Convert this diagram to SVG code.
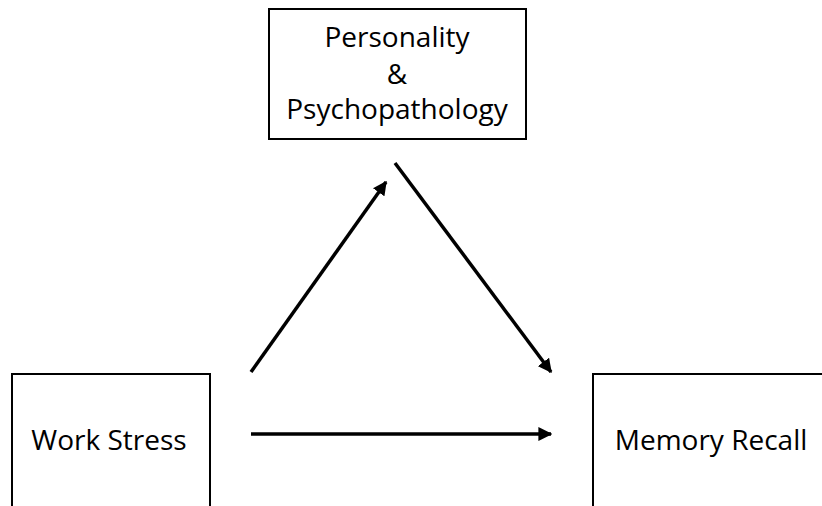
<svg xmlns="http://www.w3.org/2000/svg" width="822" height="506" viewBox="0 0 822 506">
<style>
.box{fill:#fff;stroke:#000;stroke-width:2}
.lbl{font-family:"Open Sans","Liberation Sans",sans-serif;font-size:28px;fill:#000;text-anchor:middle}
.arr{stroke:#000;stroke-width:3.5;fill:none;marker-end:url(#ah)}
</style>
<defs>
<marker id="ah" viewBox="0 0 10 10" refX="9" refY="5" markerWidth="4" markerHeight="4" orient="auto" markerUnits="strokeWidth">
<path d="M0,0 L10,5 L0,10 z" fill="#000"/>
</marker>
</defs>
<rect width="822" height="506" fill="#fff"/>
<g id="personality">
<rect class="box" x="269" y="9" width="257" height="130"/>
<text class="lbl" x="397" y="47">Personality</text>
<text class="lbl" x="397" y="84">&amp;</text>
<text class="lbl" x="397" y="119">Psychopathology</text>
</g>
<g id="workstress">
<rect class="box" x="12" y="374" width="198" height="140"/>
<text class="lbl" x="109" y="450">Work Stress</text>
</g>
<g id="memory">
<rect class="box" x="593" y="374" width="240" height="140"/>
<text class="lbl" x="711" y="450">Memory Recall</text>
</g>
<g id="connectors">
<line class="arr" x1="251" y1="372" x2="386" y2="182"/>
<line class="arr" x1="395" y1="163" x2="551" y2="372"/>
<line class="arr" x1="251" y1="434" x2="551" y2="434"/>
</g>
</svg>
